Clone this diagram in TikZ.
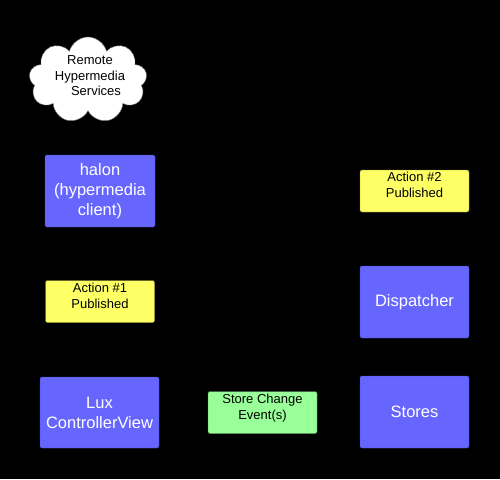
\documentclass[tikz,border=0pt]{standalone}
\usepackage{fontspec}
\setmainfont{Liberation Sans}
\usetikzlibrary{shapes.symbols}
\definecolor{luxblue}{RGB}{102,102,255}
\definecolor{luxyellow}{RGB}{255,255,102}
\definecolor{luxgreen}{RGB}{153,255,153}
\tikzset{
  partbox/.style={fill=luxblue, draw=luxblue!70!black, rounded corners=2pt, text=white,
    align=center, font=\fontsize{16.5}{20}\selectfont, inner sep=0pt},
  actionbox/.style={fill=luxyellow, draw=luxyellow!50!black, rounded corners=2pt, text=black,
    align=center, font=\fontsize{13}{16}\selectfont, inner sep=0pt,
    minimum width=109pt, minimum height=42pt},
  eventbox/.style={actionbox, fill=luxgreen, draw=luxgreen!50!black}
}
\begin{document}
\begin{tikzpicture}[x=1pt, y=-1pt]
    \fill[black] (0,0) rectangle (500,479);
    \useasboundingbox (0,0) rectangle (500,479);

    \node[cloud, cloud puffs=9, aspect=1.4, fill=white, draw=black!60, inner sep=0pt,
      minimum width=118pt, minimum height=86pt] (remote) at (88,80) {};
    \node[align=center, font=\fontsize{13}{15.5}\selectfont] (remotetext) at (90,76)
      {Remote\\Hypermedia\\\hspace{12pt}Services};

    \node[partbox, minimum width=110pt, minimum height=72pt] (halon) at (100,191)
      {halon\\(hypermedia\\client)};
    \node[actionbox] (actionb) at (414.5,191) {Action \#2\\Published\\[-4pt]};
    \node[actionbox] (actiona) at (100,301.5) {Action \#1\\Published\\[-4pt]};
    \node[partbox, minimum width=109pt, minimum height=72pt] (dispatcher) at (414.5,302) {Dispatcher};
    \node[partbox, minimum width=119pt, minimum height=71pt] (view) at (99.5,412.5) {Lux\\ControllerView};
    \node[eventbox] (change) at (262.5,412.5) {Store Change\\Event(s)\\[-4pt]};
    \node[partbox, minimum width=109pt, minimum height=72pt] (stores) at (414.5,412) {Stores};

\end{tikzpicture}
\end{document}
